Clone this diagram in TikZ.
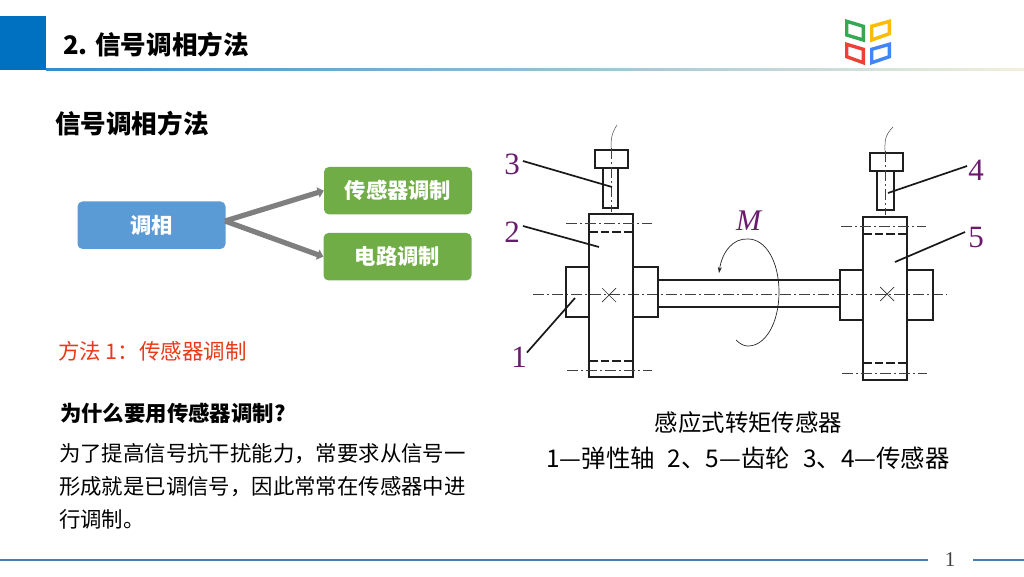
\documentclass[tikz,border=0pt]{standalone}
\usepackage{fontspec}
\setmainfont{Noto Sans CJK SC}
\newfontfamily\latinserif{Liberation Serif}
\usetikzlibrary{arrows.meta,shadings}
\definecolor{headblue}{HTML}{0070C0}
\definecolor{boxblue}{HTML}{5B9BD5}
\definecolor{boxgreen}{HTML}{70AD47}
\definecolor{arrowgray}{HTML}{7F7F7F}
\definecolor{labpurple}{HTML}{6A1B6E}
\definecolor{redtext}{HTML}{E8391A}
\definecolor{footblue}{HTML}{4A7DAF}
\definecolor{creamrule}{HTML}{F2F0DC}
\definecolor{logogreen}{HTML}{34A853}
\definecolor{logoyellow}{HTML}{FBBC05}
\definecolor{logored}{HTML}{EA4335}
\definecolor{logoblue}{HTML}{4285F4}
\tikzset{
  txt/.style={inner sep=0pt,outer sep=0pt,anchor=west,text=#1},
  txt/.default=black,
  flowbox/.style={rounded corners=5pt,inner sep=0pt,minimum height=47.5pt,minimum width=148pt,text=white,font=\fontsize{21.3}{21.3}\selectfont\bfseries},
  flowarrow/.style={draw=arrowgray,line width=5.2pt,-{Triangle[length=6pt,width=10.5pt]}},
  mech/.style={draw=black!88,line width=1.6pt},
  centerl/.style={draw=black!75,line width=0.7pt,dash pattern=on 11pt off 3pt on 2pt off 3pt},
  hidden/.style={draw=black!88,line width=1.2pt,dash pattern=on 8.5pt off 3pt},
  leader/.style={draw=black!90,line width=1.7pt},
  num/.style={inner sep=0pt,text=labpurple,font=\latinserif\fontsize{31}{31}\selectfont},
  logoq/.style={line width=3.4pt,line join=miter,fill=none},
}
\begin{document}
\begin{tikzpicture}[x=1pt,y=-1pt]
\useasboundingbox (0,0) rectangle (1024,576);
\fill[white] (0,0) rectangle (1024,576);
% header
\fill[headblue] (0,16) rectangle (46,70);
\shade[left color=headblue!80!white,right color=creamrule] (46,68) rectangle (1024,70.5);
\node[txt,font=\bfseries\fontsize{25.6}{25.6}\selectfont] (title) at (63,45) {2. 信号调相方法};
% logo
\draw[logoq,draw=logogreen] (846.7,21.3) -- (863.3,26.3) -- (863.3,40) -- (846.7,35) -- cycle;
\draw[logoq,draw=logoyellow] (871.7,26.3) -- (889.3,21.3) -- (889.3,33.7) -- (871.7,40) -- cycle;
\draw[logoq,draw=logored] (846.7,44.3) -- (863.3,49.3) -- (863.3,62.7) -- (846.7,56.7) -- cycle;
\draw[logoq,draw=logoblue] (871.7,49.3) -- (889.3,44.3) -- (889.3,56.7) -- (871.7,62.7) -- cycle;
% left column
\node[txt,font=\bfseries\fontsize{25.6}{25.6}\selectfont] (head) at (55,124) {信号调相方法};
\node[flowbox,fill=boxblue] (tx) at (151.5,225.2) {调相};
\node[flowbox,fill=boxgreen] (sm) at (398,190.7) {传感器调制};
\node[flowbox,fill=boxgreen] (cm) at (397.5,256.7) {电路调制};
\coordinate (fork) at (225,221);
\draw[flowarrow] (fork) -- (sm.west);
\draw[flowarrow] (fork) -- (cm.west);
\node[txt=redtext,font=\fontsize{21.5}{21.5}\selectfont] (m1) at (58,351) {方法 1：传感器调制};
\node[txt,font=\bfseries\fontsize{21.4}{21.4}\selectfont] (why) at (60,413) {为什么要用传感器调制?};
\node[txt,font=\fontsize{21.4}{21.4}\selectfont] (b1) at (59,454) {为了提高信号抗干扰能力，常要求从信号一};
\node[txt,font=\fontsize{21.4}{21.4}\selectfont] (b2) at (59,487) {形成就是已调信号，因此常常在传感器中进};
\node[txt,font=\fontsize{21.4}{21.4}\selectfont] (b3) at (59,519) {行调制。};
% left assembly
\draw[centerl] (533,294) -- (947,294);
\draw[mech] (566,267) rectangle (589,317);
\draw[mech] (633,267) rectangle (658,317);
\draw[mech] (589,214) rectangle (633,377);
\draw[mech] (595,150) rectangle (628,168);
\draw[mech] (603,168) rectangle (618,208);
\draw[centerl] (611,148) -- (611,212);
\draw[centerl] (566,223) -- (652,223);
\draw[centerl] (567,370) -- (652,370);
\draw[hidden] (589,232) -- (633,232);
\draw[hidden] (589,361) -- (633,361);
\draw[black!80,line width=0.7pt] (602,288) -- (616,302) (602,302) -- (616,288);
\draw[black!70,line width=0.5pt] (611,150) .. controls (611,140) and (611,134) .. (617,125);
% shaft
\draw[mech] (658,280) -- (840,280);
\draw[mech] (658,307) -- (840,307);
% right assembly
\draw[mech] (840,270) rectangle (863,320);
\draw[mech] (907,270) rectangle (933,320);
\draw[mech] (863,217) rectangle (907,380);
\draw[mech] (870,153) rectangle (903,171);
\draw[mech] (877,171) rectangle (894,210);
\draw[centerl] (885,151) -- (885,215);
\draw[centerl] (841,226) -- (926,226);
\draw[centerl] (842,373) -- (927,373);
\draw[hidden] (863,234) -- (907,234);
\draw[hidden] (863,363) -- (907,363);
\draw[black!80,line width=0.7pt] (880,287) -- (894,301) (880,301) -- (894,287);
\draw[black!70,line width=0.5pt] (885,152) .. controls (885,142) and (884,136) .. (893,127);
% moment
\draw[black!85,line width=0.7pt,-{Stealth[length=6pt,width=4pt]}] (736,340) .. controls (740,344) and (744,346) .. (748,346) .. controls (766,346) and (779,322) .. (779,292) .. controls (779,262) and (766,239) .. (748,239) .. controls (733,238) and (722,252) .. (719,273);
\node[inner sep=0pt,text=labpurple,font=\latinserif\itshape\fontsize{30}{30}\selectfont] (M) at (748.5,221) {M};
% labels and leaders
\node[num] (n3) at (512,164) {3};
\node[num] (n2) at (512,232) {2};
\node[num] (n1) at (519,357) {1};
\node[num] (n4) at (976,170) {4};
\node[num] (n5) at (976,237) {5};
\coordinate (t3) at (612,187);
\coordinate (t2) at (599,247);
\coordinate (t1) at (575,298);
\coordinate (t4) at (888,193);
\coordinate (t5) at (895,262);
\draw[leader] (n3.east) ++(3,-3) -- (t3);
\draw[leader] (n2.east) ++(3,-6) -- (t2);
\draw[leader] (n1.north east) ++(0,6) -- (t1);
\draw[leader] (n4.west) ++(-1,-4) -- (t4);
\draw[leader] (n5.west) ++(-3,-5) -- (t5);
% captions
\node[inner sep=0pt,font=\fontsize{23.4}{23.4}\selectfont] (cap1) at (748.5,423) {感应式转矩传感器};
\node[inner sep=0pt,font=\fontsize{24.4}{24.4}\selectfont] (cap2) at (748,458) {1—弹性轴\hspace{13pt}2、5—齿轮\hspace{13pt}3、4—传感器};
% footer
\draw[footblue,line width=1.6pt] (0,560) -- (928,560);
\draw[footblue,line width=1.6pt] (973,560) -- (1024,560);
\node[inner sep=0pt,text=black!75,font=\latinserif\fontsize{21}{21}\selectfont] (pg) at (950,559.5) {1};
\end{tikzpicture}
\end{document}
